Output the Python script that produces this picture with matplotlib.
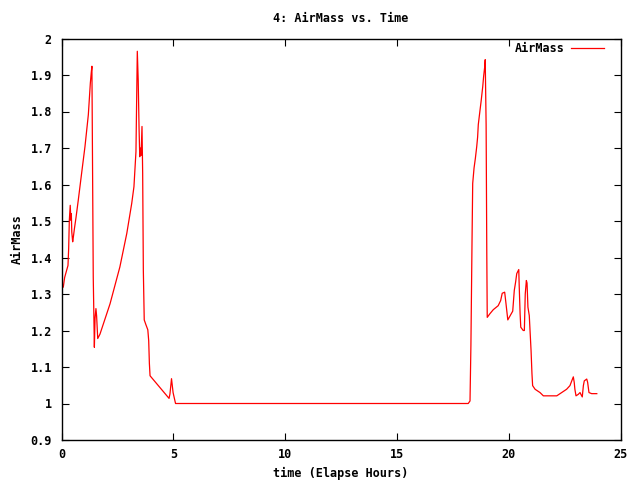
import numpy as np
import matplotlib
matplotlib.use("Agg")
import matplotlib.pyplot as plt

# elapsed hours / air mass
hours = [0.08, 0.14, 0.23, 0.29, 0.32, 0.35, 0.39, 0.42, 0.44, 0.46, 0.50, 0.53,
         0.58, 0.65, 0.75, 0.90, 1.05, 1.20, 1.29, 1.33, 1.36, 1.38, 1.42, 1.47,
         1.50, 1.54, 1.57, 1.62, 1.72, 2.17, 2.61, 2.92, 3.14, 3.24, 3.33, 3.39,
         3.43, 3.47, 3.50, 3.52, 3.56, 3.60, 3.63, 3.66, 3.70, 3.78, 3.86, 3.90,
         3.93, 3.96, 4.81, 4.85, 4.92, 4.99, 5.10,
         18.19, 18.27, 18.31, 18.36, 18.39, 18.45, 18.51, 18.57, 18.61, 18.64,
         18.72, 18.77, 18.84, 18.88, 18.93, 18.95, 18.99, 19.02, 19.04, 19.16,
         19.31, 19.53, 19.64, 19.71, 19.82, 19.88, 19.96, 20.06, 20.18, 20.25,
         20.31, 20.36, 20.45, 20.47, 20.51, 20.54, 20.65, 20.70, 20.74, 20.79,
         20.82, 20.86, 20.92, 21.00, 21.04, 21.07, 21.18, 21.40, 21.55, 22.15,
         22.37, 22.59, 22.74, 22.82, 22.89, 22.93, 22.96, 23.01, 23.11, 23.19,
         23.23, 23.29, 23.34, 23.38, 23.49, 23.53, 23.59, 23.71, 23.94]
airmass = [1.319, 1.345, 1.365, 1.378, 1.424, 1.502, 1.543, 1.502, 1.52, 1.47, 1.443, 1.456,
           1.48, 1.51, 1.557, 1.631, 1.704, 1.791, 1.878, 1.906, 1.924, 1.731, 1.346, 1.154,
           1.233, 1.26, 1.24, 1.178, 1.19, 1.273, 1.374, 1.466, 1.548, 1.594, 1.69, 1.965,
           1.887, 1.75, 1.676, 1.70, 1.68, 1.759, 1.631, 1.365, 1.229, 1.215, 1.202, 1.172,
           1.11, 1.076, 1.014, 1.026, 1.068, 1.03, 1.0,
           1.0, 1.007, 1.159, 1.447, 1.603, 1.645, 1.672, 1.704, 1.73, 1.764,
           1.805, 1.83, 1.869, 1.897, 1.924, 1.942, 1.764, 1.411, 1.236, 1.246,
           1.257, 1.268, 1.282, 1.302, 1.305, 1.273, 1.229, 1.24, 1.253, 1.31,
           1.333, 1.356, 1.367, 1.322, 1.246, 1.209, 1.2, 1.2, 1.3, 1.337,
           1.33, 1.264, 1.241, 1.145, 1.082, 1.049, 1.039, 1.03, 1.021, 1.021,
           1.03, 1.039, 1.049, 1.062, 1.073, 1.058, 1.039, 1.021, 1.025, 1.03,
           1.025, 1.018, 1.049, 1.062, 1.067, 1.058, 1.03, 1.027, 1.027]

xticks = [0, 5, 10, 15, 20, 25]
yticks = [0.9, 1.0, 1.1, 1.2, 1.3, 1.4, 1.5, 1.6, 1.7, 1.8, 1.9, 2.0]
ylabels = ["0.9", "1", "1.1", "1.2", "1.3", "1.4", "1.5", "1.6", "1.7", "1.8", "1.9", "2"]

fnt = dict(family="DejaVu Sans Mono", weight="bold", size=8.5)

fig = plt.figure(figsize=(6.4, 4.8), dpi=100)
ax = fig.add_axes([61.5/640, 1-440/480, (620.5-61.5)/640, (440-38.5)/480])
ax.plot(hours, airmass, color="red", lw=0.9, label="AirMass")

ax.set_xlim(0, 25)
ax.set_ylim(0.9, 2.0)
ax.set_xticks(xticks)
ax.set_xticklabels([str(t) for t in xticks], fontdict=fnt)
ax.set_yticks(yticks)
ax.set_yticklabels(ylabels, fontdict=fnt)
ax.tick_params(direction="in", length=5, width=0.8, top=True, right=True, pad=7)
ax.tick_params(axis="x", pad=6)
for s in ax.spines.values():
    s.set_linewidth(1.0)

ax.set_title("4: AirMass vs. Time", fontdict=fnt, pad=12)
ax.set_xlabel("time (Elapse Hours)", fontdict=fnt, labelpad=4)
ax.set_ylabel("AirMass", fontdict=fnt, labelpad=5)

# gnuplot-style key, top right, text before sample
leg = ax.legend(loc="upper right", frameon=False, markerfirst=False,
                handlelength=2.8, handletextpad=0.5, prop=fnt, borderaxespad=0.0,
                bbox_to_anchor=(1 - 12/559, 1 + 1/401))

fig.savefig("out.png", dpi=100)
